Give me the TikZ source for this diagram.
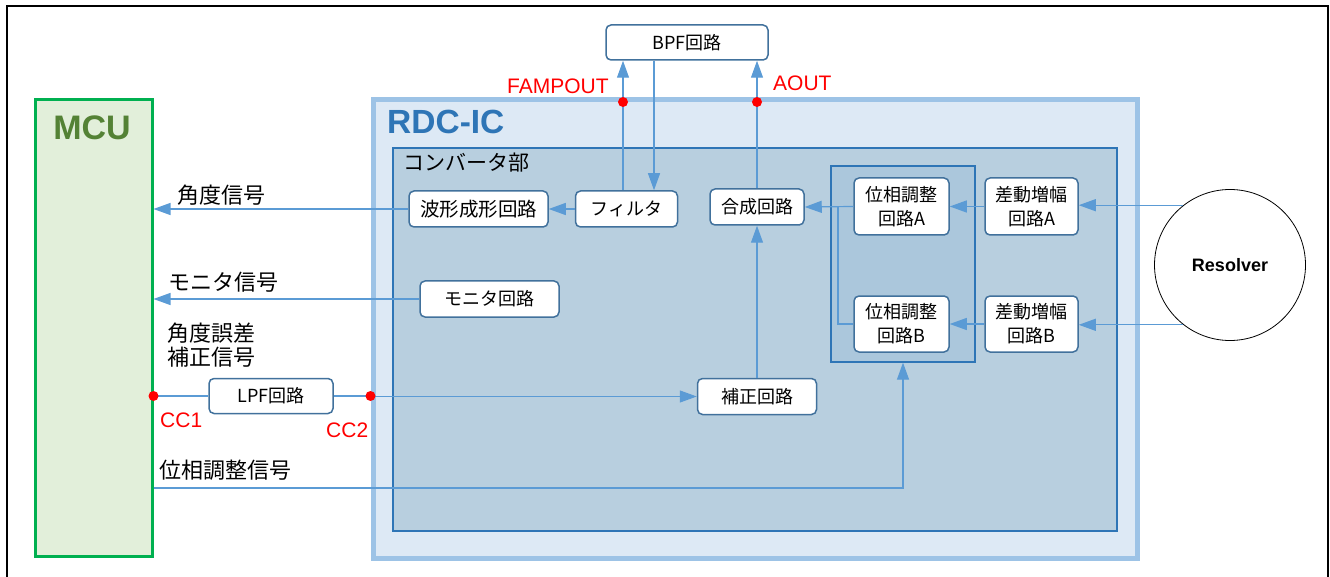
\documentclass[tikz,border=0pt]{standalone}
\usepackage{fontspec}
\setmainfont{Liberation Sans}
\newfontfamily\jp{Noto Sans CJK JP}
\usetikzlibrary{arrows.meta}
\definecolor{conn}{HTML}{5B9BD5}
\definecolor{boxline}{HTML}{41719C}
\definecolor{mcufill}{HTML}{E2EFDA}
\definecolor{mculine}{HTML}{00B050}
\definecolor{mcutext}{HTML}{548235}
\definecolor{rdcfill}{HTML}{DDE9F5}
\definecolor{rdcline}{HTML}{9DC3E6}
\definecolor{rdctext}{HTML}{2E75B6}
\definecolor{convfill}{HTML}{B8CFDF}
\definecolor{convline}{HTML}{2E75B6}
\definecolor{grpfill}{HTML}{ABC7DC}
\tikzset{
  blk/.style={draw=boxline, line width=1.5pt, rounded corners=5pt, fill=white,
    inner sep=0pt, align=center, font=\jp\fontsize{18}{24}\selectfont},
  lbl/.style={anchor=west, inner sep=0pt, align=left, font=\jp\fontsize{22}{24}\selectfont},
  redlbl/.style={inner sep=0pt, text=red, font=\fontsize{21}{24}\selectfont},
  dotn/.style={circle, fill=red, inner sep=0pt, minimum size=10pt},
  wire/.style={draw=conn, line width=1.2pt},
  arr/.style={wire, -{Triangle[length=17pt,width=12pt]}}
}
\begin{document}
\begin{tikzpicture}[x=1pt,y=-1pt]
\useasboundingbox (0,0) rectangle (1330,577);
% outer frame
\draw[line width=2.5pt] (7,577) -- (7,6) -- (1328,6) -- (1328,577);

% big containers
\node[draw=mculine, fill=mcufill, line width=3pt, minimum width=117pt, minimum height=456pt, inner sep=0pt] (mcu) at (93.5,328) {};
\node[draw=rdcline, fill=rdcfill, line width=5pt, minimum width=764pt, minimum height=458pt, inner sep=0pt] (rdc) at (755,329) {};
\node[draw=convline, fill=convfill, line width=1.3pt, minimum width=724pt, minimum height=383pt, inner sep=0pt] (conv) at (755,339.5) {};
\node[draw=convline, fill=grpfill, line width=1.3pt, minimum width=144pt, minimum height=196pt, inner sep=0pt] (grp) at (903,264) {};

% titles
\node[inner sep=0pt, text=mcutext, font=\bfseries\fontsize{34}{36}\selectfont] (mcut) at (92,128) {MCU};
\node[inner sep=0pt, anchor=west, text=rdctext, font=\bfseries\fontsize{33.5}{36}\selectfont] (rdct) at (387,122) {RDC-IC};
\node[lbl, font=\jp\fontsize{21}{24}\selectfont] (convt) at (403,163) {コンバータ部};

% blocks
\node[blk, minimum width=162pt, minimum height=35pt] (bpf) at (687,42.5) {BPF回路};
\node[blk, minimum width=102pt, minimum height=36pt] (filt) at (626.5,209) {フィルタ};
\node[blk, minimum width=139pt, minimum height=36pt, font=\jp\fontsize{19.5}{24}\selectfont] (wave) at (478.5,209) {波形成形回路};
\node[blk, minimum width=94pt, minimum height=36pt] (gosei) at (757,207) {合成回路};
\node[blk, minimum width=95pt, minimum height=57pt] (phA) at (901.5,206.5) {位相調整\\回路A};
\node[blk, minimum width=95pt, minimum height=56pt] (phB) at (901.5,324) {位相調整\\回路B};
\node[blk, minimum width=93pt, minimum height=57pt] (diffA) at (1031.5,206.5) {差動増幅\\回路A};
\node[blk, minimum width=93pt, minimum height=56pt] (diffB) at (1031.5,324) {差動増幅\\回路B};
\node[blk, minimum width=139pt, minimum height=36pt] (mon) at (489.5,299) {モニタ回路};
\node[blk, minimum width=119pt, minimum height=36pt] (hosei) at (757,396.5) {補正回路};
\node[blk, minimum width=124pt, minimum height=35pt] (lpf) at (271,396) {LPF回路};
\node[draw=black, line width=0.8pt, circle, minimum size=151pt, inner sep=0pt, fill=white,
  font=\bfseries\fontsize{18}{20}\selectfont] (res) at (1230,265) {Resolver};

% junction points
\coordinate (bx) at (654,0);
\coordinate (jx) at (838,0);
\coordinate (phy) at (0,488);

% connectors
\draw[wire] (filt.north -| 623,0) -- (623,102);
\draw[arr] (623,102) -- (bpf.south -| 623,0);
\draw[arr] (bx |- bpf.south) -- (bx |- filt.north);
\draw[arr] (filt.west) -- (wave.east);
\draw[arr] (wave.west) -- (wave.west -| mcu.east);
\draw[wire] (gosei.north) -- (757,102);
\draw[arr] (757,102) -- (bpf.south -| 757,0);
\draw[arr] (hosei.north) -- (gosei.south);
\draw[arr] (phA.west) -- (gosei.east);
\draw[wire] (phB.west) -| (jx |- phA.west);
\draw[arr] (diffA.west) -- (phA.east);
\draw[arr] (diffB.west) -- (phB.east);
\draw[arr] (res.128) -- (res.128 -| diffA.east);
\draw[arr] (res.232) -- (res.232 -| diffB.east);
\draw[arr] (mon.west) -- (mon.west -| mcu.east);
\draw[wire] (mcu.east |- lpf.west) -- (lpf.west);
\draw[wire] (lpf.east) -- (lpf.east -| rdc.west);
\draw[arr] (rdc.west |- hosei.west) -- (hosei.west);
\draw[arr] (mcu.east |- phy) -| (grp.south);

% red dots
\node[dotn] (famp) at (623,102) {};
\node[dotn] (aout) at (757,102) {};
\node[dotn] (cc1) at (mcu.east |- lpf.west) {};
\node[dotn] (cc2) at (rdc.west |- lpf.east) {};

% labels
\node[redlbl, anchor=west] (fampt) at (507,86) {FAMPOUT};
\node[redlbl, anchor=west] (aoutt) at (773,83) {AOUT};
\node[redlbl, anchor=west] (cc1t) at (160,420) {CC1};
\node[redlbl, anchor=west] (cc2t) at (326,430) {CC2};
\node[lbl] (l1) at (177,195) {角度信号};
\node[lbl] (l2) at (168,282) {モニタ信号};
\node[lbl] (l3) at (167,345) {角度誤差\\補正信号};
\node[lbl] (l4) at (159,470) {位相調整信号};
\end{tikzpicture}
\end{document}
